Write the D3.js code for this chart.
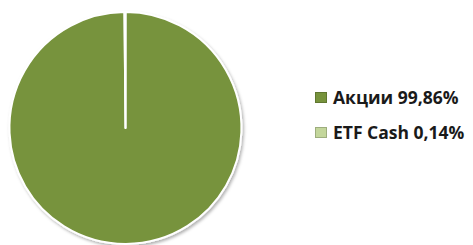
<!DOCTYPE html>
<html>
<head>
<meta charset="utf-8">
<script src="https://cdn.jsdelivr.net/npm/d3@7"></script>
<style>
  body { margin: 0; background: #fff; }
</style>
</head>
<body>
<div id="chart"></div>
<script>
const width = 473;
const height = 245;

const categories = ["Акции", "ETF Cash"];
const values = [99.86, 0.14];
const labels = ["Акции 99,86%", "ETF Cash 0,14%"];
const colors = ["#77933c", "#c3d69b"];

const cx = 125.5;
const cy = 128;
const radius = 116;

const svg = d3.select("#chart").append("svg")
  .attr("width", width)
  .attr("height", height);

const defs = svg.append("defs");
const shadow = defs.append("filter")
  .attr("id", "shadow")
  .attr("x", "-10%").attr("y", "-10%")
  .attr("width", "130%").attr("height", "130%");
shadow.append("feDropShadow")
  .attr("dx", 1.5).attr("dy", 2)
  .attr("stdDeviation", 1.5)
  .attr("flood-color", "#000")
  .attr("flood-opacity", 0.3);

const pie = d3.pie().sort(null).value(d => d);
const arc = d3.arc().innerRadius(0).outerRadius(radius);

const color = d3.scaleOrdinal(categories, colors);

const g = svg.append("g")
  .attr("transform", `translate(${cx},${cy})`)
  .attr("filter", "url(#shadow)");

g.selectAll("path")
  .data(pie(values))
  .join("path")
  .attr("d", arc)
  .attr("fill", (d, i) => color(categories[i]))
  .attr("stroke", "#fff")
  .attr("stroke-width", 2)
  .attr("stroke-linejoin", "round");

const legend = svg.append("g")
  .attr("transform", "translate(315,92)");

const item = legend.selectAll("g")
  .data(categories)
  .join("g")
  .attr("transform", (d, i) => `translate(0,${i * 35})`);

item.append("rect")
  .attr("x", 0.5).attr("y", 0.5)
  .attr("width", 11).attr("height", 10)
  .attr("fill", d => color(d))
  .attr("stroke", d => d3.color(color(d)).darker(0.6))
  .attr("stroke-width", 1);

item.append("text")
  .attr("x", 18)
  .attr("y", 12)
  .attr("font-family", "'Open Sans', sans-serif")
  .attr("font-weight", "bold")
  .attr("font-size", 17.5)
  .attr("fill", "#1a1a1a")
  .text((d, i) => labels[i]);
</script>
</body>
</html>
